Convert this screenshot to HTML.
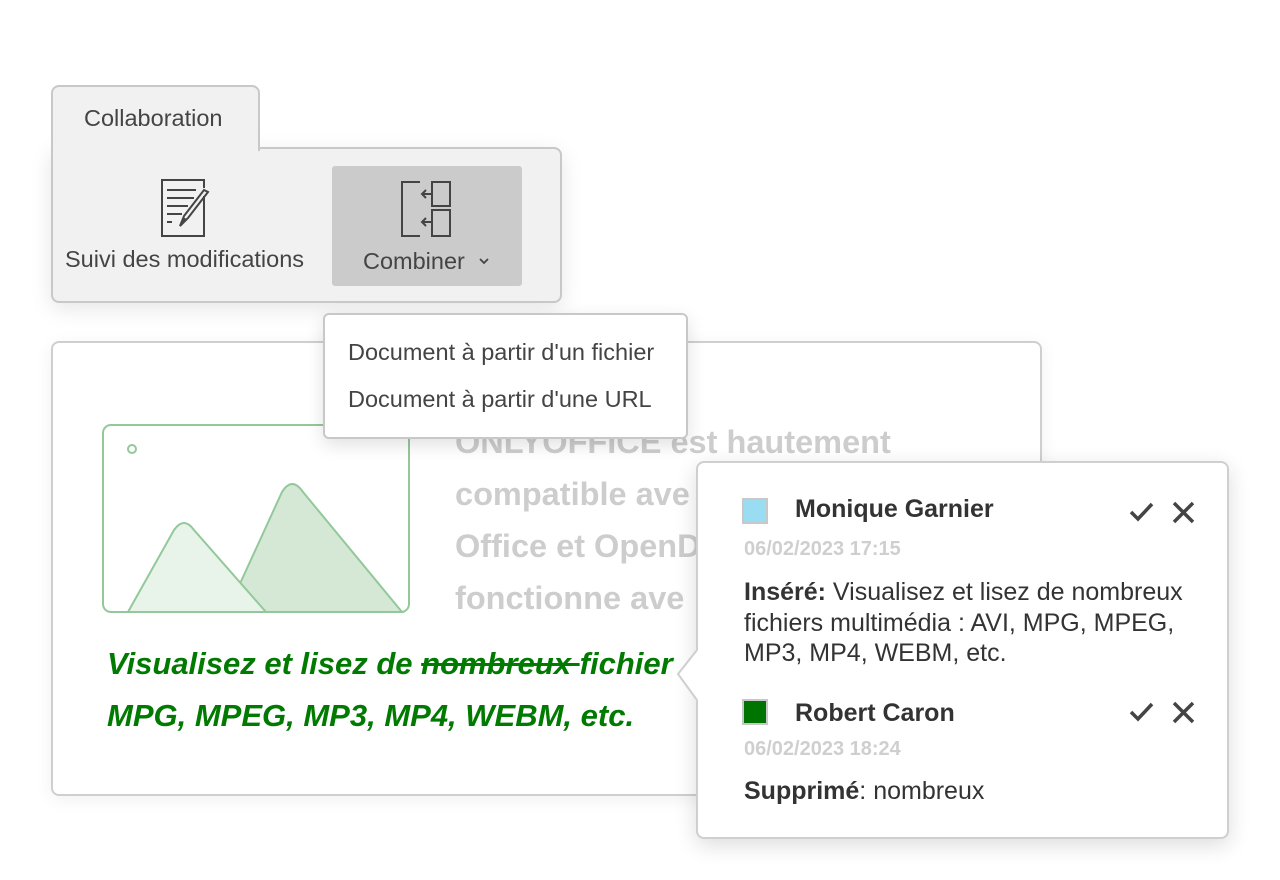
<!DOCTYPE html>
<html><head><meta charset="utf-8"><style>
*{margin:0;padding:0;box-sizing:border-box}
body{width:1280px;height:880px;background:#fff;position:relative;overflow:hidden;font-family:"Liberation Sans",sans-serif;color:#333}
.a{position:absolute}
.t{position:absolute;white-space:nowrap}
</style></head><body>
<!-- collaboration panel -->
<div class="a" style="left:51px;top:147px;width:511px;height:156px;background:#f1f1f1;border:2px solid #c8c8c8;border-radius:0 8px 8px 8px;box-shadow:0 6px 22px rgba(0,0,0,0.10)"></div>
<div class="a" style="left:51px;top:85px;width:209px;height:66px;background:#f1f1f1;border:2px solid #c8c8c8;border-bottom:none;border-radius:8px 8px 0 0"></div>
<div class="t" style="left:84px;top:105px;font-size:23.5px;color:#444">Collaboration</div>
<svg class="a" style="left:158px;top:178px" width="56" height="60" viewBox="0 0 56 60" fill="none" stroke="#444" stroke-width="2">
<path d="M46 18V58H4V2H46V10"/><path d="M9 12H38M9 20H36M9 28H30M9 36H24M9 44H14"/>
<path d="M50 14L30 40L22 48L26 38L46 12Z"/><path d="M22 48L27 40" />
</svg>
<div class="t" style="left:65px;top:246px;font-size:23.5px;color:#444">Suivi des modifications</div>
<div class="a" style="left:332px;top:166px;width:190px;height:120px;background:#cbcbcb;border-radius:3px"></div>
<svg class="a" style="left:400px;top:180px" width="54" height="58" viewBox="0 0 54 58" fill="none" stroke="#444" stroke-width="2">
<path d="M20 2H2V56H20"/><rect x="32" y="2" width="18" height="24"/><rect x="32" y="30" width="18" height="26"/>
<path d="M32 14H22M26 10L22 14L26 18M32 42H22M26 38L22 42L26 46"/>
</svg>
<div class="t" style="left:363px;top:248px;font-size:23.5px;color:#444">Combiner</div>
<svg class="a" style="left:478px;top:257px" width="12" height="8" viewBox="0 0 12 8"><path d="M2 2L6 6L10 2" fill="none" stroke="#444" stroke-width="1.8"/></svg>

<!-- document card -->
<div class="a" style="left:51px;top:341px;width:991px;height:455px;background:#fff;border:2px solid #cfcfcf;border-radius:8px;box-shadow:0 4px 18px rgba(0,0,0,0.06)"></div>
<svg class="a" style="left:102px;top:424px" width="310" height="190" viewBox="0 0 310 190">
<rect x="1" y="1" width="306" height="187" rx="8" fill="#fff" stroke="#93c89a" stroke-width="2"/>
<circle cx="30" cy="25" r="4" fill="none" stroke="#93c89a" stroke-width="2"/>
<path d="M125 188L180 68Q190 52 201 68L300 188Z" fill="#d4e8d5" stroke="#93c89a" stroke-width="2"/>
<path d="M26 188L72 106Q82 92 92 106L164 188Z" fill="#e8f3e9" stroke="#93c89a" stroke-width="2"/>
</svg>
<div class="a" style="left:455px;top:416px;font-size:32.5px;font-weight:bold;color:#cdcdcd;line-height:52px;white-space:nowrap">
ONLYOFFICE est hautement<br>compatible ave<br>Office et OpenD<br>fonctionne ave</div>
<div class="a" style="left:107px;top:638px;font-size:31px;font-weight:bold;font-style:italic;color:#007a00;line-height:52px;white-space:nowrap">
Visualisez et lisez de <span style="text-decoration:line-through">nombreux </span>fichier<br>MPG, MPEG, MP3, MP4, WEBM, etc.</div>

<!-- dropdown -->
<div class="a" style="left:323px;top:313px;width:365px;height:126px;background:#fff;border:2px solid #c8c8c8;border-radius:6px;box-shadow:0 6px 18px rgba(0,0,0,0.12)"></div>
<div class="t" style="left:348px;top:339px;font-size:23.5px;color:#444">Document à partir d'un fichier</div>
<div class="t" style="left:348px;top:386px;font-size:23.5px;color:#444">Document à partir d'une URL</div>

<!-- popup -->
<div class="a" style="left:696px;top:461px;width:533px;height:378px;background:#fff;border:2px solid #cfcfcf;border-radius:8px;box-shadow:0 6px 22px rgba(0,0,0,0.14)"></div>
<svg class="a" style="left:674px;top:650px" width="26" height="50" viewBox="0 0 26 50"><path d="M24 0V50L4 24Z" fill="#fff"/><path d="M23 0L4 24L23 50" fill="none" stroke="#cfcfcf" stroke-width="2"/></svg>
<div class="a" style="left:742px;top:498px;width:26px;height:26px;background:#9adcf2;border:2px solid #c8c8c8"></div>
<div class="t" style="left:795px;top:495px;font-size:25px;font-weight:bold;color:#333">Monique Garnier</div>
<div class="t" style="left:744px;top:538px;font-size:20px;font-weight:bold;color:#cfcfcf">06/02/2023 17:15</div>
<div class="a" style="left:744px;top:577px;font-size:25px;color:#333;line-height:30.5px;width:480px;white-space:nowrap">
<b>Inséré:</b> Visualisez et lisez de nombreux<br>fichiers multimédia : AVI, MPG, MPEG,<br>MP3, MP4, WEBM, etc.</div>
<div class="a" style="left:742px;top:699px;width:26px;height:26px;background:#007400;border:2px solid #c8c8c8"></div>
<div class="t" style="left:795px;top:699px;font-size:25px;font-weight:bold;color:#333">Robert Caron</div>
<div class="t" style="left:744px;top:738px;font-size:20px;font-weight:bold;color:#cfcfcf">06/02/2023 18:24</div>
<div class="t" style="left:744px;top:777px;font-size:25px;color:#333"><b>Supprimé</b>: nombreux</div>
<svg class="a" style="left:1128px;top:500px" width="72" height="24" viewBox="0 0 72 24" fill="none" stroke="#444" stroke-width="3.5">
<path d="M3 12L10 19L24 4"/><path d="M46 3L65 22M65 3L46 22"/></svg>
<svg class="a" style="left:1128px;top:700px" width="72" height="24" viewBox="0 0 72 24" fill="none" stroke="#444" stroke-width="3.5">
<path d="M3 12L10 19L24 4"/><path d="M46 3L65 22M65 3L46 22"/></svg>
</body></html>
